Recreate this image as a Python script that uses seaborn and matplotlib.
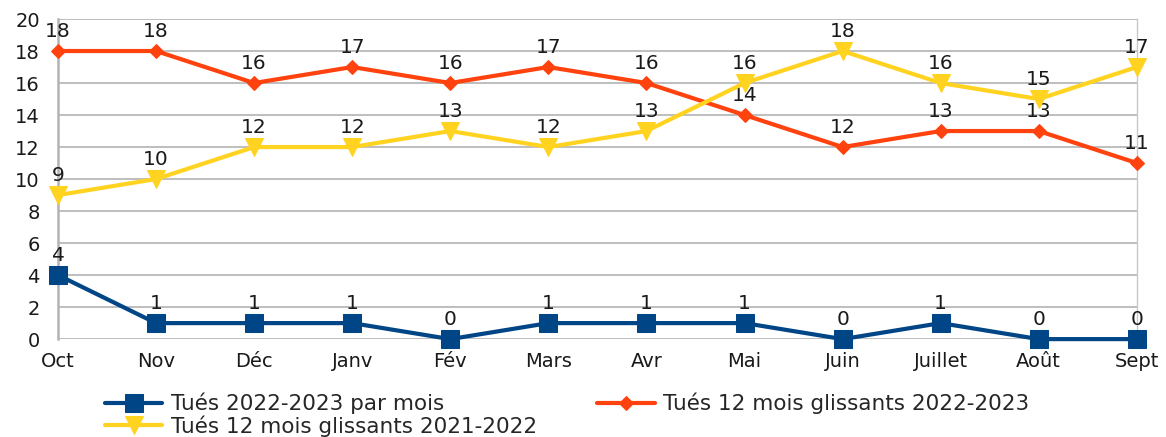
import numpy as np
import pandas as pd
import matplotlib
matplotlib.use("Agg")
import matplotlib.pyplot as plt
import seaborn as sns

months = ["Oct", "Nov", "Déc", "Janv", "Fév", "Mars", "Avr", "Mai",
          "Juin", "Juillet", "Août", "Sept"]
tues_mois = [4, 1, 1, 1, 0, 1, 1, 1, 0, 1, 0, 0]
glissant_2223 = [18, 18, 16, 17, 16, 17, 16, 14, 12, 13, 13, 11]
glissant_2122 = [9, 10, 12, 12, 13, 12, 13, 16, 18, 16, 15, 17]

series = [
    ("Tués 2022-2023 par mois", tues_mois, "#004586", "s", 12.5),
    ("Tués 12 mois glissants 2022-2023", glissant_2223, "#ff420e", "D", 7.5),
    ("Tués 12 mois glissants 2021-2022", glissant_2122, "#ffd320", "v", 13),
]

sns.set_style("white")
plt.rcParams["font.family"] = ["DejaVu Sans"]

fig = plt.figure(figsize=(11.66, 4.37), dpi=100)
ax = fig.add_axes([0.0497, 0.224, 0.9253, 0.7325])

for name, vals, color, marker, ms in series:
    df = pd.DataFrame({"x": np.arange(len(months)), "y": vals})
    sns.lineplot(data=df, x="x", y="y", ax=ax, color=color, marker=marker,
                 markersize=ms, markeredgecolor=color, linewidth=3,
                 label=name, zorder=3, clip_on=False)
    for xi, yi in zip(df["x"], df["y"]):
        ax.annotate(str(yi), (xi, yi), xytext=(0, 10), textcoords="offset points",
                    ha="center", va="baseline", fontsize=14.5, color="#1a1a1a")

ax.set_xlim(0, len(months) - 1)
ax.set_ylim(0, 20)
ax.set_yticks(range(0, 21, 2))
ax.set_xticks(range(len(months)))
ax.set_xticklabels(months)
ax.set_xlabel("")
ax.set_ylabel("")
ax.grid(axis="y", color="#b3b3b3", linewidth=1.2)
ax.set_axisbelow(True)
for side in ["top", "bottom"]:
    ax.spines[side].set_visible(False)
ax.spines["left"].set_color("#b3b3b3")
ax.spines["left"].set_linewidth(1.8)
ax.spines["right"].set_color("#c8c8c8")
ax.spines["right"].set_linewidth(1)
ax.tick_params(axis="x", length=6, width=1.2, color="#b3b3b3", labelsize=14,
               pad=3, labelcolor="#1a1a1a")
ax.tick_params(axis="y", length=8, width=1.2, color="#b3b3b3", labelsize=14,
               pad=5, labelcolor="#1a1a1a")

h, l = ax.get_legend_handles_labels()
order = [0, 2, 1]
ax.legend([h[i] for i in order], [l[i] for i in order], ncol=2,
          loc="upper left", bbox_to_anchor=(0.036, -0.14), frameon=False,
          fontsize=15.5, handlelength=2.65, columnspacing=2.8,
          labelspacing=0.05, handletextpad=0.4, borderaxespad=0)

fig.savefig("out.png", dpi=100)
